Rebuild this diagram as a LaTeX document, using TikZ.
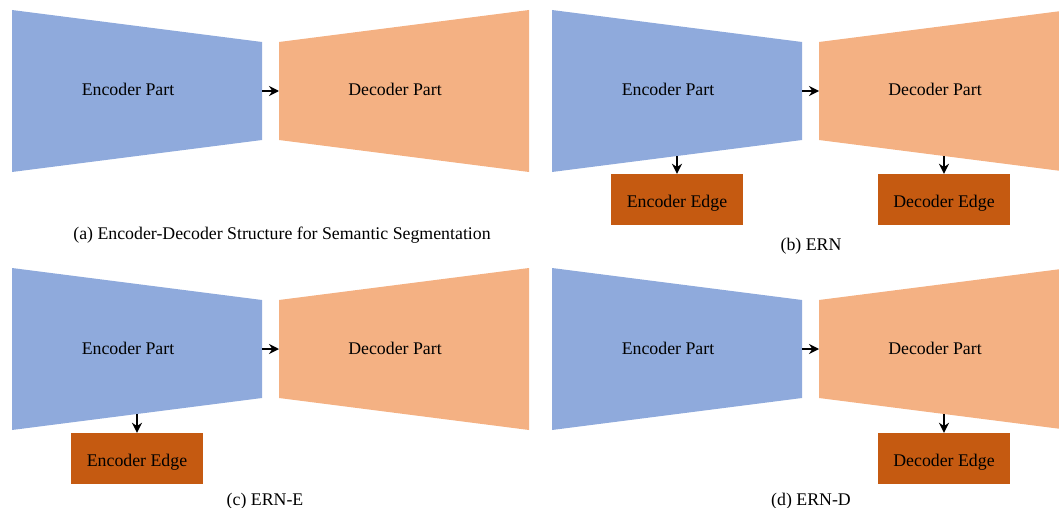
\documentclass[tikz,border=0pt]{standalone}
\usepackage{fontspec}
\setmainfont{Liberation Serif}
\usetikzlibrary{arrows.meta}
\definecolor{encblue}{HTML}{8FAADC}
\definecolor{decorange}{HTML}{F4B183}
\definecolor{edgebrown}{HTML}{C55A11}
\tikzset{encoder/.style={fill=encblue},decoder/.style={fill=decorange},partname/.style={anchor=base,inner sep=0pt,font=\fontsize{17.8}{20}\selectfont},edgebox/.style={fill=edgebrown,minimum width=132pt,minimum height=51pt,inner sep=0pt,text height=16pt,text depth=0pt,font=\fontsize{17.8}{20}\selectfont},subcap/.style={anchor=base,inner sep=0pt,font=\fontsize{17.8}{20}\selectfont},flow/.style={line width=2.6pt,-{Stealth[length=10pt,width=10pt]}}}

\begin{document}
\begin{tikzpicture}[x=1pt,y=-1pt]
\clip (0,0) rectangle (1059,508);
\path[use as bounding box] (0,0) rectangle (1059,508);
% (a) encoder-decoder
\fill[encoder] (12,10) -- (262,42) -- (262,140) -- (12,172) -- cycle;
\fill[decoder] (279,42) -- (529,10) -- (529,172) -- (279,140) -- cycle;
\node[partname] (encA) at (128,96) {Encoder Part};
\node[partname] (decA) at (395,96) {Decoder Part};
\coordinate (encA-out) at (262,91);
\coordinate (decA-in) at (279,91);
\draw[flow] (encA-out) -- (decA-in);
\node[subcap] (capA) at (282,239.5) {(a) Encoder-Decoder Structure for Semantic Segmentation};
% (b) ERN
\fill[encoder] (552,10) -- (802,42) -- (802,140) -- (552,172) -- cycle;
\fill[decoder] (819,42) -- (1069,10) -- (1069,172) -- (819,140) -- cycle;
\node[partname] (encB) at (668,96) {Encoder Part};
\node[partname] (decB) at (935,96) {Decoder Part};
\coordinate (encB-out) at (802,91);
\coordinate (decB-in) at (819,91);
\draw[flow] (encB-out) -- (decB-in);
\node[edgebox] (edgeEncB) at (677,199.5) {Encoder Edge};
\node[edgebox] (edgeDecB) at (944,199.5) {Decoder Edge};
\coordinate (encB-bot) at (677,156);
\coordinate (decB-bot) at (944,156);
\draw[flow] (encB-bot) -- (edgeEncB.north);
\draw[flow] (decB-bot) -- (edgeDecB.north);
\node[subcap] (capB) at (811,250) {(b) ERN};
% (c) ERN-E
\fill[encoder] (12,268) -- (262,300) -- (262,398) -- (12,430) -- cycle;
\fill[decoder] (279,300) -- (529,268) -- (529,430) -- (279,398) -- cycle;
\node[partname] (encC) at (128,354) {Encoder Part};
\node[partname] (decC) at (395,354) {Decoder Part};
\coordinate (encC-out) at (262,349);
\coordinate (decC-in) at (279,349);
\draw[flow] (encC-out) -- (decC-in);
\node[edgebox] (edgeEncC) at (137,458.5) {Encoder Edge};
\coordinate (encC-bot) at (137,414);
\draw[flow] (encC-bot) -- (edgeEncC.north);
\node[subcap] (capC) at (265,505) {(c) ERN-E};
% (d) ERN-D
\fill[encoder] (552,268) -- (802,300) -- (802,398) -- (552,430) -- cycle;
\fill[decoder] (819,300) -- (1069,268) -- (1069,430) -- (819,398) -- cycle;
\node[partname] (encD) at (668,354) {Encoder Part};
\node[partname] (decD) at (935,354) {Decoder Part};
\coordinate (encD-out) at (802,349);
\coordinate (decD-in) at (819,349);
\draw[flow] (encD-out) -- (decD-in);
\node[edgebox] (edgeDecD) at (944,458.5) {Decoder Edge};
\coordinate (decD-bot) at (944,414);
\draw[flow] (decD-bot) -- (edgeDecD.north);
\node[subcap] (capD) at (811,505) {(d) ERN-D};
\end{tikzpicture}
\end{document}
